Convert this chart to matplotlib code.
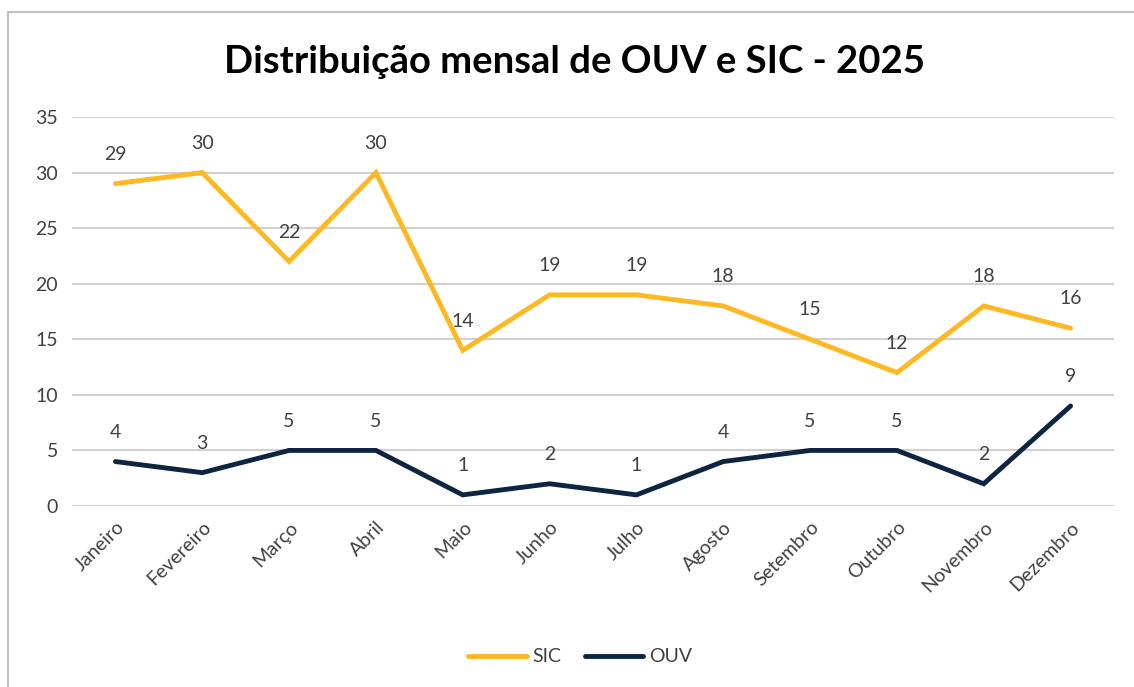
import matplotlib
matplotlib.use("Agg")
import matplotlib.pyplot as plt
from matplotlib.patches import Rectangle

months = ["Janeiro", "Fevereiro", "Março", "Abril", "Maio", "Junho", "Julho",
          "Agosto", "Setembro", "Outubro", "Novembro", "Dezembro"]
sic = [29, 30, 22, 30, 14, 19, 19, 18, 15, 12, 18, 16]
ouv = [4, 3, 5, 5, 1, 2, 1, 4, 5, 5, 2, 9]
yticks = [0, 5, 10, 15, 20, 25, 30, 35]
title = "Distribuição mensal de OUV e SIC - 2025"

SIC_COLOR = "#FDB822"
OUV_COLOR = "#0E2441"
TXT = "#404040"
FONT = ["Lato", "DejaVu Sans"]

plt.rcParams["font.family"] = FONT

fig = plt.figure(figsize=(11.34, 6.87), dpi=100)
W, H = 1134, 687
fig.patches.append(Rectangle((8 / W, -0.1), 1.2, 1 - 12 / H + 0.1,
                             transform=fig.transFigure, fill=False,
                             edgecolor="#BFBFBF", linewidth=1.5))

ax = fig.add_axes([72 / W, 1 - 506 / H, (1114 - 72) / W, (506 - 117) / H])
x = list(range(len(months)))
ax.plot(x, sic, color=SIC_COLOR, lw=3.5, solid_capstyle="round",
        solid_joinstyle="miter", label="SIC", zorder=3)
ax.plot(x, ouv, color=OUV_COLOR, lw=3.5, solid_capstyle="round",
        solid_joinstyle="miter", label="OUV", zorder=3)

for xi, v in zip(x, sic):
    ax.annotate(str(v), (xi, v), xytext=(0, 15), textcoords="offset points",
                ha="center", va="bottom", fontsize=14, color=TXT)
for xi, v in zip(x, ouv):
    ax.annotate(str(v), (xi, v), xytext=(0, 15), textcoords="offset points",
                ha="center", va="bottom", fontsize=14, color=TXT)

ax.set_xlim(-0.5, len(months) - 0.5)
ax.set_ylim(0, 35)
ax.set_yticks(yticks)
ax.set_yticklabels([str(t) for t in yticks], fontsize=14, color=TXT)
ax.set_xticks(x)
ax.set_xticklabels(months, rotation=45, ha="right", rotation_mode="anchor",
                   fontsize=14, color=TXT)
ax.tick_params(axis="both", length=0, pad=10)
ax.tick_params(axis="x", pad=9)
ax.grid(axis="y", color="#D0D0D0", lw=1.5)
ax.set_axisbelow(True)
for s in ax.spines.values():
    s.set_visible(False)

fig.text(575 / W, 1 - 62 / H, title, ha="center", va="center",
         fontsize=27.5, fontweight="bold", color="#000000")

leg = fig.legend(loc="center", bbox_to_anchor=(580 / W, 1 - 657 / H), ncol=2,
                 frameon=False, fontsize=14, handlelength=3.0,
                 columnspacing=1.2, handletextpad=0.3)
for t in leg.get_texts():
    t.set_color(TXT)

fig.savefig("out.png", dpi=100)
